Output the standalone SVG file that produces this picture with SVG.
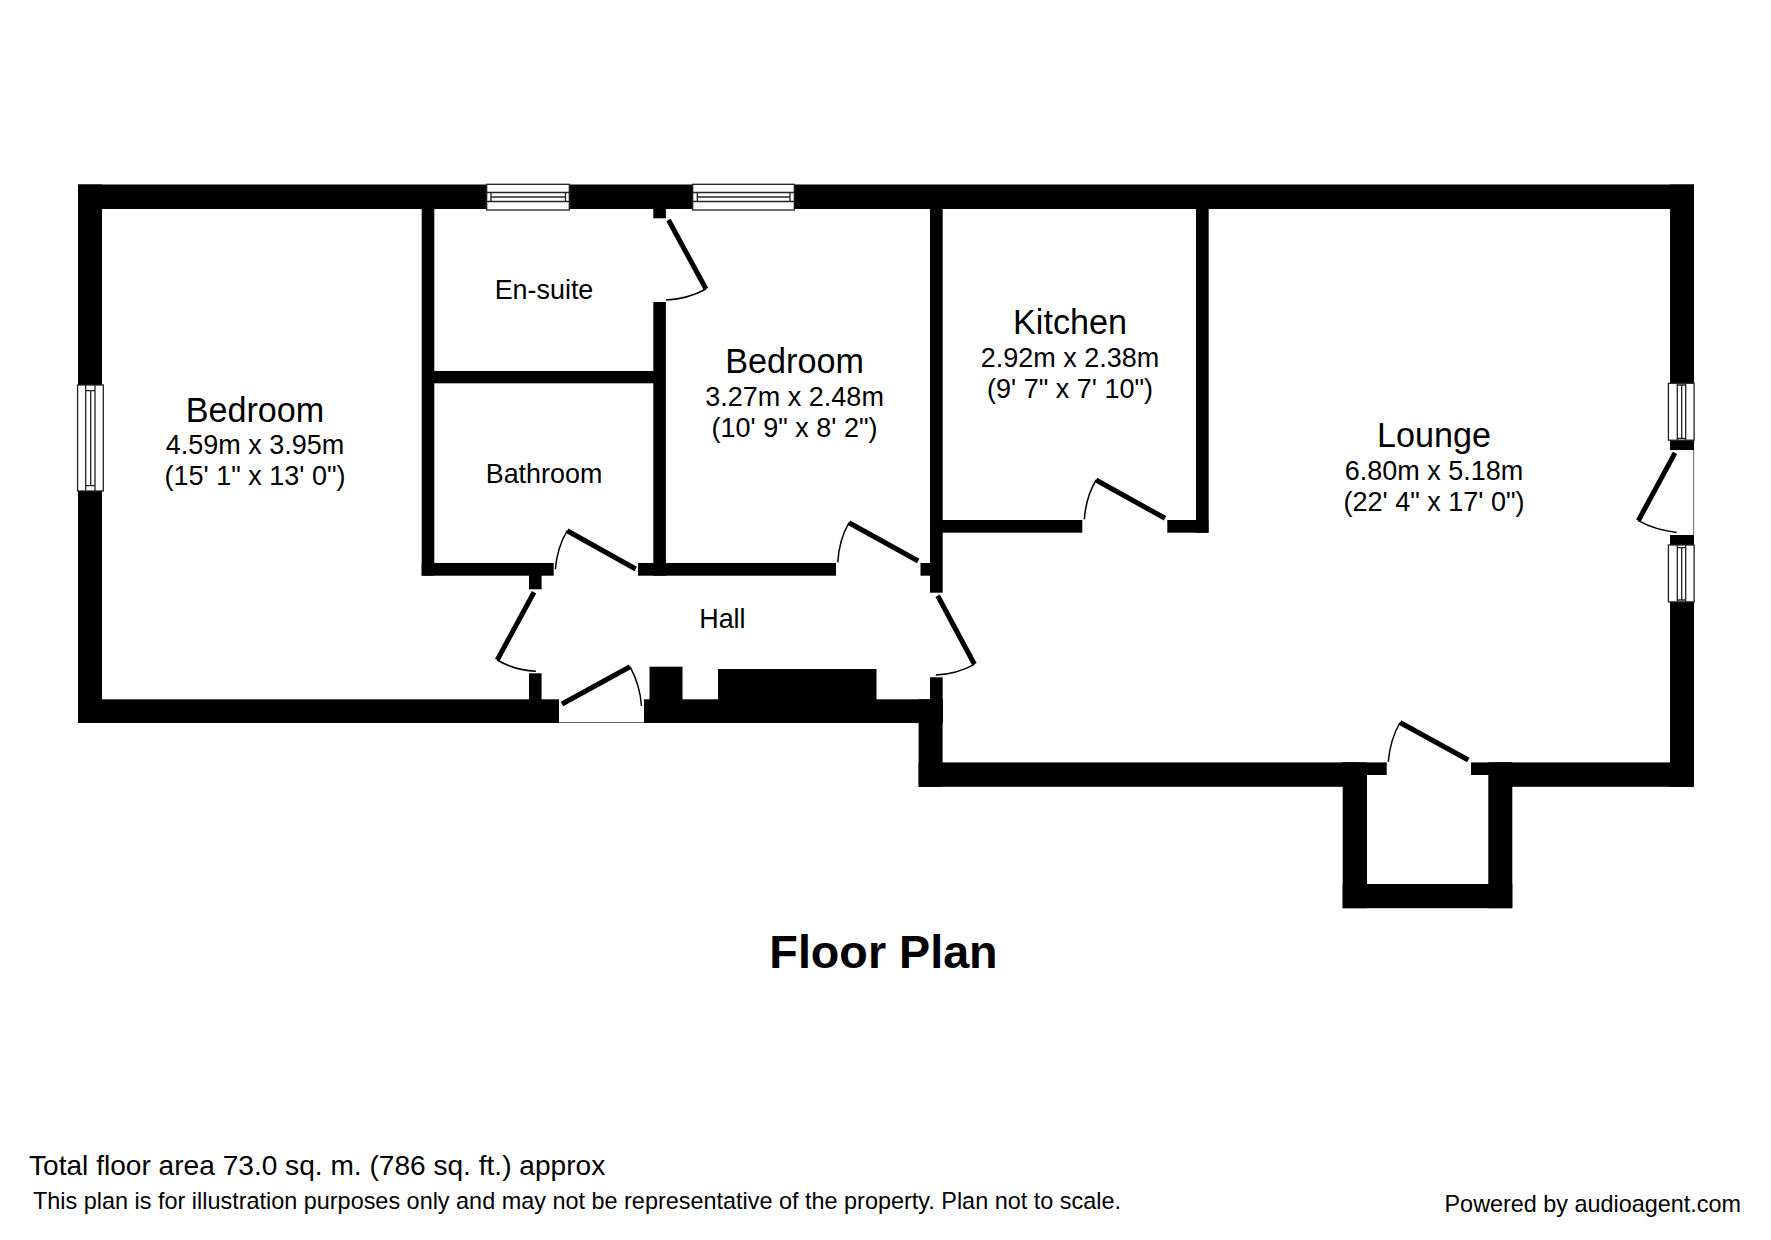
<svg xmlns="http://www.w3.org/2000/svg" width="1771" height="1240" viewBox="0 0 1771 1240">
<style>
text{font-family:"Liberation Sans",Arial,sans-serif;fill:#000;text-anchor:middle}
.n{font-size:34.2px}.s{font-size:27px}.l{font-size:26.9px}
.t{font-size:46.7px;font-weight:bold}
.w{fill:#000}
.leaf{stroke:#000;stroke-width:5;fill:none}
.arc{stroke:#000;stroke-width:1.5;fill:none}
.win{fill:#fff;stroke:#222;stroke-width:1.3}
.wl{stroke:#222;stroke-width:1.3;fill:none}
</style>
<rect width="1771" height="1240" fill="#fff"/>
<g id="walls" class="w">
<rect x="78" y="184.5" width="1616" height="24.5"/>
<rect x="78" y="184.5" width="24" height="538.5"/>
<rect x="78" y="699.3" width="481" height="23.7"/>
<rect x="644" y="699.3" width="299" height="23.7"/>
<rect x="649.5" y="666.7" width="33" height="35"/>
<rect x="718" y="669" width="158.5" height="32"/>
<rect x="918.6" y="699.3" width="24" height="87.5"/>
<rect x="918.6" y="762.4" width="440" height="24.4"/>
<rect x="1670" y="184.5" width="24" height="602.3"/>
<rect x="1495" y="762.4" width="199" height="24.4"/>
<rect x="1342.7" y="762.4" width="44" height="12.6"/>
<rect x="1471" y="762.4" width="41" height="12.6"/>
<rect x="1342.7" y="762.4" width="24.3" height="145.8"/>
<rect x="1488.3" y="762.4" width="24" height="145.8"/>
<rect x="1342.7" y="884" width="169.6" height="24.2"/>
<rect x="421.7" y="209" width="12.6" height="366.7"/>
<rect x="421.7" y="563" width="132" height="12.7"/>
<rect x="529" y="575" width="12.6" height="14.3"/>
<rect x="529" y="673.3" width="12.6" height="27"/>
<rect x="430" y="371" width="226" height="12.3"/>
<rect x="653.3" y="302" width="12.6" height="273.7"/>
<rect x="653.3" y="205" width="12.6" height="13.3"/>
<rect x="638" y="563" width="198" height="12.7"/>
<rect x="930" y="205" width="12.7" height="387.7"/>
<rect x="930" y="677.3" width="12.7" height="30"/>
<rect x="920.5" y="563" width="12" height="12.7"/>
<rect x="940" y="520" width="142.3" height="12.7"/>
<rect x="1196" y="205" width="12.7" height="327.7"/>
<rect x="1167.3" y="520" width="41" height="12.7"/>
</g>
<g id="openings">
<rect x="1670" y="450" width="24.5" height="85" fill="#fff"/>
<line x1="1693.7" y1="450" x2="1693.7" y2="535" stroke="#666" stroke-width="1"/>
<line x1="559" y1="722.5" x2="644" y2="722.5" stroke="#666" stroke-width="1"/>
</g>
<g id="windows">
<g id="window-top-1"><rect class="win" x="486.7" y="184.3" width="82.6" height="25.7"/><path class="wl" d="M486.7 192.5H569.3M486.7 201.5H569.3M491 197H565.5M491 192.5V201.5M565.5 192.5V201.5"/></g>
<g id="window-top-2"><rect class="win" x="692.7" y="184.3" width="101.6" height="25.7"/><path class="wl" d="M692.7 192.5H794.3M692.7 201.5H794.3M697.3 197H790M697.3 192.5V201.5M790 192.5V201.5"/></g>
<g id="window-left"><rect class="win" x="77.6" y="385" width="25.7" height="106"/><path class="wl" d="M85.7 385V491M95 385V491M90.7 390.7V485.7M85.7 390.7H95M85.7 485.7H95"/></g>
<g id="window-right-1"><rect class="win" x="1668.4" y="383.3" width="25.7" height="56.9"/><path class="wl" d="M1677.3 383.3V440.2M1685.7 383.3V440.2M1681.7 385V438.3M1677.3 385H1685.7M1677.3 438.3H1685.7"/></g>
<g id="window-right-2"><rect class="win" x="1668.4" y="545" width="25.7" height="56.9"/><path class="wl" d="M1677.3 545V601.9M1685.7 545V601.9M1681.7 547.7V600M1677.3 547.7H1685.7M1677.3 600H1685.7"/></g>
</g>
<g id="doors">
<path class="leaf" d="M668.5 220L706 289"/><path class="arc" d="M706 289Q688 299 666 300"/>
<path class="leaf" d="M534 592.3L497.2 660"/><path class="arc" d="M497.2 660Q514 670 535.9 671.3"/>
<path class="leaf" d="M562 704L630 666.7"/><path class="arc" d="M630 666.7Q640 685 641.5 706"/>
<path class="leaf" d="M567.2 530.7L635.7 569"/><path class="arc" d="M567.2 530.7Q557 548 555.4 569.3"/>
<path class="leaf" d="M849 522.7L918.2 561"/><path class="arc" d="M849 522.7Q839 540 837.8 562.3"/>
<path class="leaf" d="M937.7 595.7L974.4 664.3"/><path class="arc" d="M974.4 664.3Q957 674 935.8 675"/>
<path class="leaf" d="M1096 480L1165 518.3"/><path class="arc" d="M1096 480Q1086 497 1084.3 519.3"/>
<path class="leaf" d="M1400 722.5L1468.3 760"/><path class="arc" d="M1400 722.5Q1390 740 1388.3 761.8"/>
<path class="leaf" d="M1675 452.9L1638.3 520.7"/><path class="arc" d="M1638.3 520.7Q1655 530 1676.7 532.5"/>
</g>
<g id="room-bedroom-1"><text class="n" x="255" y="421.5">Bedroom</text><text class="s" x="255" y="453.6">4.59m x 3.95m</text><text class="s" x="255" y="485.3">(15' 1" x 13' 0")</text></g>
<g id="room-ensuite"><text class="l" x="544" y="299">En-suite</text></g>
<g id="room-bathroom"><text class="l" x="544" y="483">Bathroom</text></g>
<g id="room-bedroom-2"><text class="n" x="794.6" y="373">Bedroom</text><text class="s" x="794.6" y="406.3">3.27m x 2.48m</text><text class="s" x="794.6" y="436.8">(10' 9" x 8' 2")</text></g>
<g id="room-kitchen"><text class="n" x="1070" y="334">Kitchen</text><text class="s" x="1070" y="367">2.92m x 2.38m</text><text class="s" x="1070" y="397.6">(9' 7" x 7' 10")</text></g>
<g id="room-lounge"><text class="n" x="1434" y="446.7">Lounge</text><text class="s" x="1434" y="479.8">6.80m x 5.18m</text><text class="s" x="1434" y="511">(22' 4" x 17' 0")</text></g>
<g id="room-hall"><text class="l" x="722.4" y="628">Hall</text></g>
<g id="captions">
<text class="t" x="883.5" y="968">Floor Plan</text>
<text x="29" y="1175" style="text-anchor:start;font-size:28.1px">Total floor area 73.0 sq. m. (786 sq. ft.) approx</text>
<text x="33" y="1208.6" style="text-anchor:start;font-size:23.43px">This plan is for illustration purposes only and may not be representative of the property. Plan not to scale.</text>
<text x="1741" y="1211.5" style="text-anchor:end;font-size:23.4px">Powered by audioagent.com</text>
</g>
</svg>
